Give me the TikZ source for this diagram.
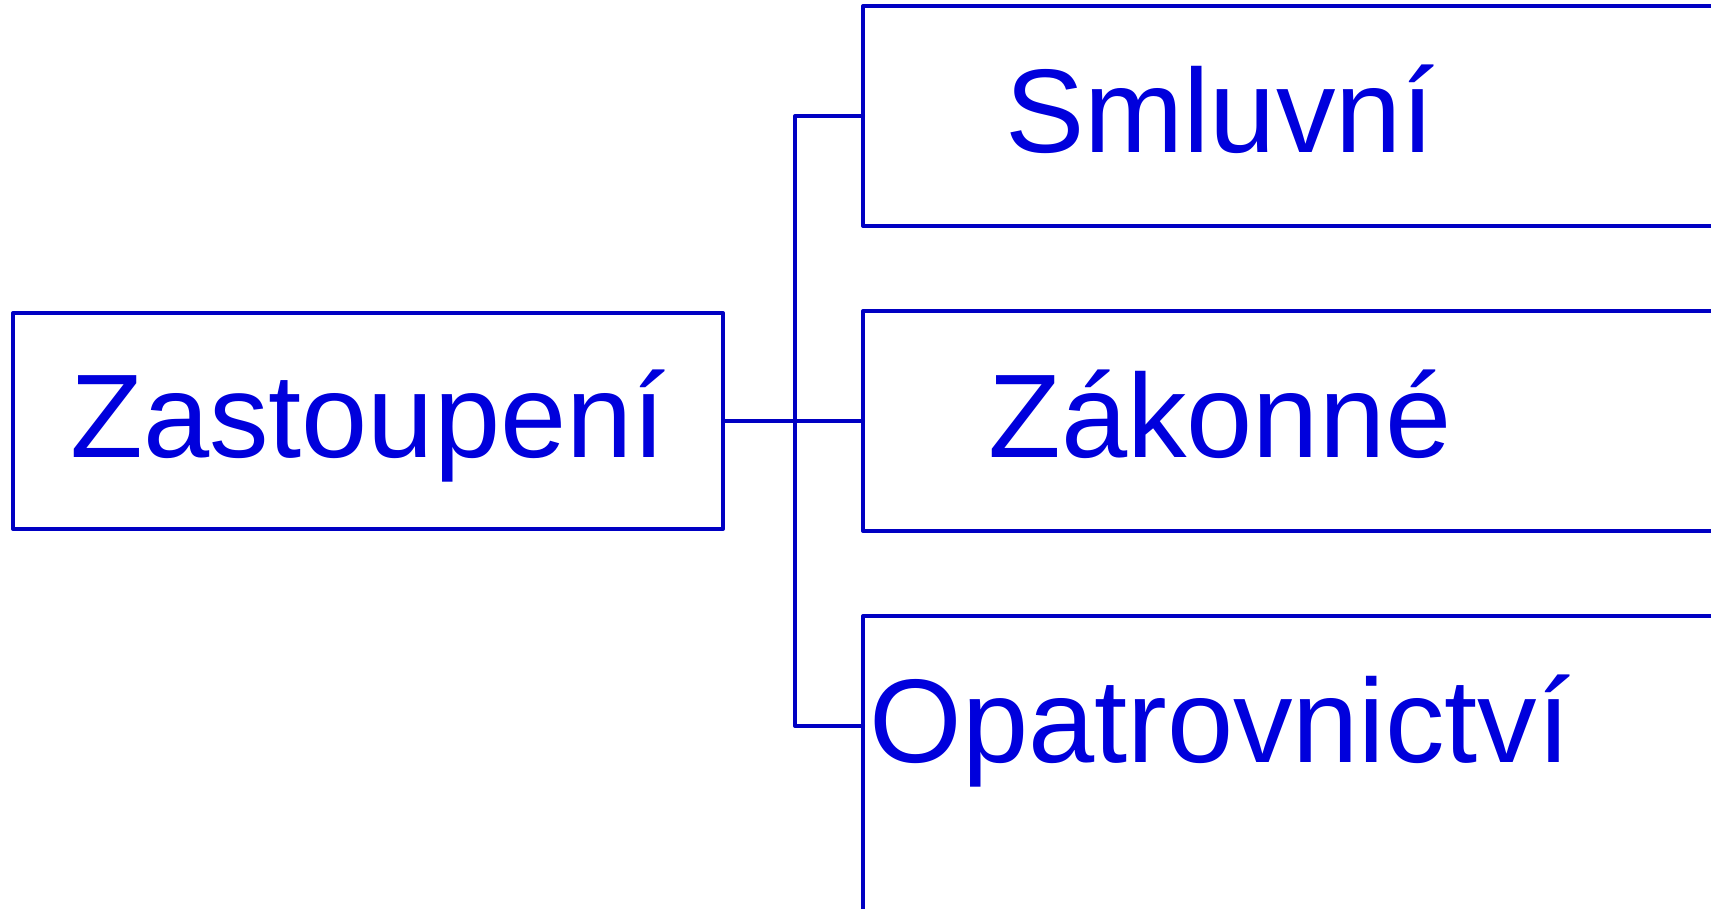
\documentclass[tikz,border=0pt]{standalone}
\usepackage{fontspec}
\setmainfont{Liberation Sans}
\usetikzlibrary{positioning}

\definecolor{boxblue}{RGB}{0,0,195}
\definecolor{textblue}{RGB}{0,0,220}

\tikzset{
    frame/.style={draw=boxblue, line width=4pt, line join=round, line cap=round},
    lbox/.style={frame, minimum width=710pt, minimum height=216pt, inner sep=0pt,
        text=textblue, font=\fontsize{119}{130}\selectfont, text height=72pt, text depth=0pt},
    rbox/.style={lbox, draw=none},
    link/.style={frame},
}

\begin{document}
\begin{tikzpicture}[x=1pt,y=-1pt]
    \useasboundingbox (0,0) rectangle (1711,908);
    \clip (0,0) rectangle (1711,908);

    \node[lbox] (zast) at (368,421) {Zastoupení};

    \node[rbox] (smluvni) at (1220,116) {Smluvní};
    \node[rbox] (zakonne) at (1220,421) {Zákonné};
    \node[rbox] (opatr) at (1220,726) {Opatrovnictví};

    % frames run off the right edge
    \draw[frame] (smluvni.north west) rectangle ([xshift=300pt]smluvni.south east);
    \draw[frame] (zakonne.north west) rectangle ([xshift=300pt]zakonne.south east);
    \draw[frame] (opatr.north west) rectangle ([xshift=300pt,yshift=-300pt]opatr.south east);

    \coordinate (fork) at (795,421);

    \draw[link] (zast.east) -- (zakonne.west);
    \draw[link] (fork) |- (smluvni.west);
    \draw[link] (fork) |- (opatr.west);
\end{tikzpicture}
\end{document}
